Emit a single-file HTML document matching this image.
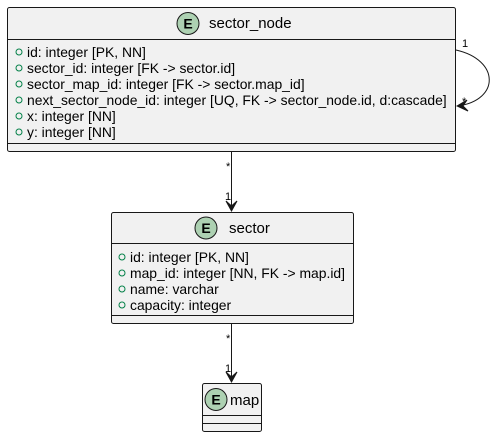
<html><body style="margin:0;background:#fff">
<svg width="496" height="437" xmlns="http://www.w3.org/2000/svg" font-family="Liberation Sans, sans-serif">
<style>.t{font-size:13.9px;fill:#000}.s{font-size:11px;fill:#000}</style>
<!-- sector_node -->
<rect x="7.5" y="7.5" width="448" height="144" rx="2" fill="#f1f1f1" stroke="#181818"/>
<line x1="7.5" y1="39.5" x2="455.5" y2="39.5" stroke="#181818"/>
<line x1="7.5" y1="143.5" x2="455.5" y2="143.5" stroke="#181818"/>
<circle cx="188" cy="23.5" r="11" fill="#add1b2" stroke="#181818"/>
<text x="188" y="28.5" text-anchor="middle" font-size="14" font-weight="bold">E</text>
<text x="209" y="28" font-size="15">sector_node</text>
<g fill="none" stroke="#038048"><circle cx="19" cy="52" r="3"/><circle cx="19" cy="68" r="3"/><circle cx="19" cy="84" r="3"/><circle cx="19" cy="100" r="3"/><circle cx="19" cy="116" r="3"/><circle cx="19" cy="132" r="3"/></g>
<text class="t" x="27" y="57">id: integer [PK, NN]</text>
<text class="t" x="27" y="73">sector_id: integer [FK -&gt; sector.id]</text>
<text class="t" x="27" y="89">sector_map_id: integer [FK -&gt; sector.map_id]</text>
<text class="t" x="27" y="105">next_sector_node_id: integer [UQ, FK -&gt; sector_node.id, d:cascade]</text>
<text class="t" x="27" y="121">x: integer [NN]</text>
<text class="t" x="27" y="137">y: integer [NN]</text>
<!-- self loop -->
<path d="M456,50 C500,60 500,100 458,106" fill="none" stroke="#181818"/>
<path d="M457,106 L467,100 L463,106 L468,111 Z" fill="#181818" stroke="#181818"/>
<text class="s" x="462" y="47">1</text>
<text class="s" x="462" y="105">*</text>
<!-- connector 1 -->
<line x1="231.5" y1="152" x2="231.5" y2="211" stroke="#181818"/>
<path d="M226,201 L231.5,211 L237,201 L231.5,206 Z" fill="#181818" stroke="#181818"/>
<text class="s" x="226" y="170">*</text>
<text class="s" x="225" y="200">1</text>
<!-- sector -->
<rect x="111.5" y="212.5" width="242" height="111" rx="2" fill="#f1f1f1" stroke="#181818"/>
<line x1="111.5" y1="243.5" x2="353.5" y2="243.5" stroke="#181818"/>
<line x1="111.5" y1="315.5" x2="353.5" y2="315.5" stroke="#181818"/>
<circle cx="206" cy="228" r="11" fill="#add1b2" stroke="#181818"/>
<text x="206" y="233" text-anchor="middle" font-size="14" font-weight="bold">E</text>
<text x="229" y="233" font-size="15">sector</text>
<g fill="none" stroke="#038048"><circle cx="122" cy="257" r="3"/><circle cx="122" cy="273" r="3"/><circle cx="122" cy="289" r="3"/><circle cx="122" cy="305" r="3"/></g>
<text class="t" x="130" y="262">id: integer [PK, NN]</text>
<text class="t" x="130" y="278">map_id: integer [NN, FK -&gt; map.id]</text>
<text class="t" x="130" y="294">name: varchar</text>
<text class="t" x="130" y="310">capacity: integer</text>
<!-- connector 2 -->
<line x1="231.5" y1="324" x2="231.5" y2="382" stroke="#181818"/>
<path d="M226,372 L231.5,382 L237,372 L231.5,377 Z" fill="#181818" stroke="#181818"/>
<text class="s" x="226" y="342">*</text>
<text class="s" x="225" y="372">1</text>
<!-- map -->
<rect x="202.5" y="383.5" width="59" height="48" rx="2" fill="#f1f1f1" stroke="#181818"/>
<line x1="202.5" y1="415.5" x2="261.5" y2="415.5" stroke="#181818"/>
<line x1="202.5" y1="423.5" x2="261.5" y2="423.5" stroke="#181818"/>
<circle cx="216" cy="399.5" r="11" fill="#add1b2" stroke="#181818"/>
<text x="216" y="404.5" text-anchor="middle" font-size="14" font-weight="bold">E</text>
<text x="230" y="405" font-size="15">map</text>
</svg>
</body></html>
